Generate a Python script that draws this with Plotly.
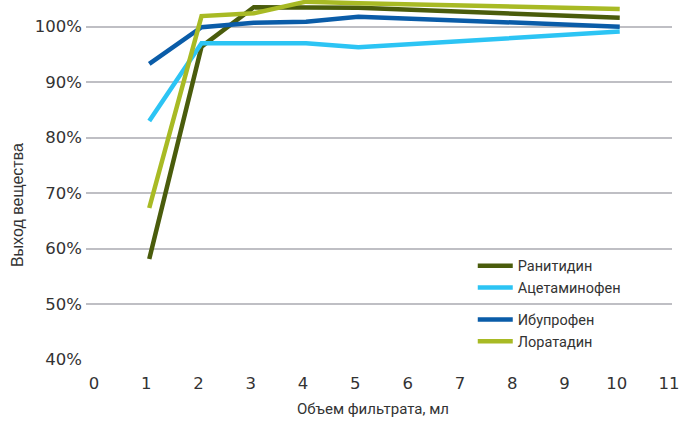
import plotly.graph_objects as go

x_ml = [1, 2, 3, 4, 5, 10]
ranitidine = [58.1, 96.4, 103.5, 103.4, 103.4, 101.6]
acetaminophen = [83.0, 97.0, 97.0, 97.0, 96.3, 99.1]
ibuprofen = [93.3, 99.9, 100.7, 100.9, 101.8, 100.0]
loratadine = [67.3, 101.9, 102.4, 104.5, 104.2, 103.2]

names = ["Ранитидин", "Ацетаминофен", "Ибупрофен", "Лоратадин"]
colors = ["#4a5c0c", "#2cc4f4", "#0a5ca8", "#a8ba24"]
groups = ["g1", "g1", "g2", "g2"]
series = [ranitidine, acetaminophen, ibuprofen, loratadine]

x_ticks = list(range(0, 12))
y_ticks = [40, 50, 60, 70, 80, 90, 100]
y_labels = [f"{v}%" for v in y_ticks]

tick_font = dict(family="DejaVu Sans", size=16.5, color="#333333")

fig = go.Figure()
for name, col, grp, vals in zip(names, colors, groups, series):
    fig.add_trace(go.Scatter(x=x_ml, y=vals, name=name, mode="lines",
                             line=dict(color=col, width=4.5),
                             legendgroup=grp))

fig.update_layout(
    width=685, height=421,
    margin=dict(l=86, r=13, t=0, b=61, autoexpand=False),
    plot_bgcolor="white", paper_bgcolor="white",
    font=dict(family="Roboto", size=15, color="#333333"),
    showlegend=True,
    legend=dict(x=0.66, y=0.306, xanchor="left", yanchor="top",
                bgcolor="rgba(0,0,0,0)", tracegroupgap=10,
                traceorder="grouped", itemwidth=35,
                font=dict(family="Roboto", size=14.5, color="#333333")),
    xaxis=dict(range=[-0.21, 11.0], tickvals=x_ticks, showgrid=False,
               zeroline=False, showline=False, ticks="", automargin=False,
               ticklabelstandoff=11, ticklabelshift=-3,
               tickfont=tick_font),
    yaxis=dict(range=[39.9, 104.8], tickvals=y_ticks, ticktext=y_labels,
               showgrid=True, gridcolor="#bfbfc4", gridwidth=2,
               zeroline=False, showline=False, ticks="", automargin=False,
               ticklabelstandoff=3,
               tickfont=tick_font),
    annotations=[
        dict(text="Выход вещества", xref="paper", yref="paper",
             x=-0.118, y=0.43, textangle=-90, showarrow=False,
             font=dict(family="Liberation Sans", size=16, color="#333333"),
             xanchor="center", yanchor="middle"),
        dict(text="Объем фильтрата, мл", xref="paper", yref="paper",
             x=0.49, y=-0.135, showarrow=False,
             font=dict(family="Roboto", size=15, color="#333333"),
             xanchor="center", yanchor="middle"),
    ],
)

fig.write_html("out.html", config={"displayModeBar": False},
               post_script="document.body.style.margin='0';")
